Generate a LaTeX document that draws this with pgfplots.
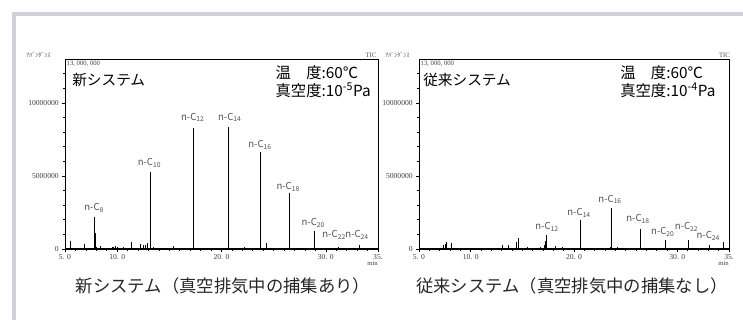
\documentclass[border=0pt]{standalone}
\usepackage{fontspec}
\usepackage{pgfplots}
\usepackage{pgfplotstable}
\pgfplotsset{compat=1.18}
\setmainfont{Noto Sans CJK JP}
\newfontfamily\jp{Noto Sans CJK JP}
\newfontfamily\tf{Liberation Serif}
\definecolor{frame}{RGB}{208,210,218}
\definecolor{lbl}{RGB}{80,80,80}
\newcommand\nc[1]{n-C\textsubscript{#1}}
\tikzset{peak/.style={font=\jp\fontsize{7.2}{8}\selectfont, text=lbl, inner sep=0pt}}

\pgfplotstableread{
t v
5.5 570000
6.1 80000
6.9 340000
7.4 100000
7.8 2200000
7.92 1100000
8.05 120000
8.4 180000
9.0 80000
9.6 150000
9.8 180000
10.0 120000
10.3 100000
10.6 120000
11.0 100000
11.35 500000
11.8 100000
12.2 350000
12.5 280000
12.7 300000
12.9 400000
13.2 5270000
13.5 150000
14.2 80000
15.4 200000
16.5 60000
17.3 8300000
18.5 60000
19.2 80000
19.6 60000
20.65 8350000
21.5 50000
22.2 120000
23.7 6650000
24.3 400000
25.0 50000
26.5 3800000
27.5 40000
28.95 1200000
31.2 150000
33.2 300000
34.0 50000
}\newdata

\pgfplotstableread{
t v
6.5 60000
7.35 300000
7.55 350000
7.65 450000
8.1 420000
8.6 100000
9.2 80000
10.0 60000
10.8 100000
11.5 60000
12.0 80000
12.6 100000
13.1 300000
13.7 300000
14.45 450000
14.6 750000
15.0 100000
15.5 120000
16.0 100000
16.8 150000
17.1 300000
17.2 550000
17.33 940000
18.25 200000
18.9 120000
19.3 100000
20.66 2000000
21.5 60000
22.5 80000
23.5 150000
23.67 2800000
24.2 120000
25.1 100000
25.8 60000
26.4 1370000
27.3 50000
28.1 60000
28.85 600000
29.8 50000
31.1 600000
32.2 50000
33.1 280000
34.5 460000
}\olddata

\pgfplotsset{gcaxis/.style={
  scale only axis, height=142.5pt, anchor=south west,
  xmin=5, xmax=35, ymin=0, ymax=13000000,
  xtick={5,10,20,30,35}, xticklabels={5. 0,10. 0,20. 0,30. 0,35.},
  minor xtick={6,7,8,9,11,12,13,14,15,16,17,18,19,21,22,23,24,25,26,27,28,29,31,32,33,34},
  ytick={0,5000000,10000000}, yticklabels={0,5000000,10000000},
  minor ytick={1000000,2000000,3000000,4000000,6000000,7000000,8000000,9000000,11000000,12000000},
  scaled y ticks=false,
  tick align=outside, xtick pos=bottom, ytick pos=left,
  major tick length=2.2pt, minor tick length=1.4pt,
  tick style={black, line width=0.45pt},
  ticklabel style={font=\tf\fontsize{5.7}{6}\selectfont, text=black!75},
  xticklabel style={yshift=1.5pt},
  yticklabel style={xshift=1pt},
  axis line style={line width=0.55pt},
  clip=true,
}}

\begin{document}
\begin{tikzpicture}
\path[use as bounding box] (0,0) rectangle (557.25pt,240pt);
\draw[frame, line width=3pt] (10.5pt,0pt) -- (10.5pt,229.5pt) -- (557.25pt,229.5pt);

% left panel
\begin{axis}[gcaxis, at={(48.75pt,53.25pt)}, width=234.75pt]
\addplot[ycomb, black, line width=0.8pt, no marks] table[x=t,y=v] {\newdata};
\draw[line width=1.2pt] (rel axis cs:0,0) -- (rel axis cs:0,1);
\draw[line width=1.1pt] (rel axis cs:0,0) -- (rel axis cs:1,0);
\node[peak] at (axis cs:7.8,2800000) {\nc{8}};
\node[peak] at (axis cs:13.1,5900000) {\nc{10}};
\node[peak] at (axis cs:17.25,9000000) {\nc{12}};
\node[peak] at (axis cs:20.8,9000000) {\nc{14}};
\node[peak] at (axis cs:23.7,7100000) {\nc{16}};
\node[peak] at (axis cs:26.4,4250000) {\nc{18}};
\node[peak] at (axis cs:28.8,1800000) {\nc{20}};
\node[peak] at (axis cs:30.8,960000) {\nc{22}};
\node[peak] at (axis cs:33.0,960000) {\nc{24}};
\end{axis}

% right panel
\begin{axis}[gcaxis, at={(314.25pt,53.25pt)}, width=232.5pt]
\addplot[ycomb, black, line width=0.8pt, no marks] table[x=t,y=v] {\olddata};
\draw[line width=1.2pt] (rel axis cs:0,0) -- (rel axis cs:0,1);
\draw[line width=1.1pt] (rel axis cs:0,0) -- (rel axis cs:1,0);
\node[peak] at (axis cs:17.4,1500000) {\nc{12}};
\node[peak] at (axis cs:20.5,2470000) {\nc{14}};
\node[peak] at (axis cs:23.5,3400000) {\nc{16}};
\node[peak] at (axis cs:26.2,2050000) {\nc{18}};
\node[peak] at (axis cs:28.6,1160000) {\nc{20}};
\node[peak] at (axis cs:30.9,1500000) {\nc{22}};
\node[peak] at (axis cs:33.0,900000) {\nc{24}};
\end{axis}

% small header texts
\node[anchor=west, inner sep=0pt, font=\jp\fontsize{4.5}{5}\selectfont, text=black!70] at (19.5pt,198.75pt) {ｱﾊﾞﾝﾀﾞﾝｽ};
\node[anchor=west, inner sep=0pt, font=\jp\fontsize{4.5}{5}\selectfont, text=black!70] at (288.75pt,198.75pt) {ｱﾊﾞﾝﾀﾞﾝｽ};
\node[anchor=east, inner sep=0pt, font=\tf\fontsize{5}{6}\selectfont, text=black!70] at (282.5pt,198.75pt) {TIC};
\node[anchor=east, inner sep=0pt, font=\tf\fontsize{5}{6}\selectfont, text=black!70] at (547.5pt,198.75pt) {TIC};
\node[anchor=west, inner sep=0pt, font=\tf\fontsize{5}{6}\selectfont, text=black!75] at (49.8pt,192pt) {13, 000, 000};
\node[anchor=west, inner sep=0pt, font=\tf\fontsize{5}{6}\selectfont, text=black!75] at (315.3pt,192pt) {13, 000, 000};
\node[anchor=east, inner sep=0pt, font=\tf\fontsize{5}{6}\selectfont, text=black!75] at (283.5pt,42.5pt) {min};
\node[anchor=east, inner sep=0pt, font=\tf\fontsize{5}{6}\selectfont, text=black!75] at (546.75pt,42.5pt) {min};

% panel titles
\node[anchor=west, inner sep=0pt, font=\jp\fontsize{11}{13}\selectfont] at (54pt,180pt) {新システム};
\node[anchor=west, inner sep=0pt, font=\jp\fontsize{11}{13}\selectfont] at (317.25pt,180pt) {従来システム};
\node[anchor=west, inner sep=0pt, font=\jp\fontsize{11.5}{13}\selectfont] at (206.5pt,185.25pt) {温　度:60℃};
\node[anchor=west, inner sep=0pt, font=\jp\fontsize{11.5}{13}\selectfont] at (206.5pt,172.5pt) {真空度:10\textsuperscript{-5}Pa};
\node[anchor=west, inner sep=0pt, font=\jp\fontsize{11.5}{13}\selectfont] at (465pt,185.25pt) {温　度:60℃};
\node[anchor=west, inner sep=0pt, font=\jp\fontsize{11.5}{13}\selectfont] at (465pt,172.5pt) {真空度:10\textsuperscript{-4}Pa};

% captions
\node[inner sep=0pt, font=\jp\fontsize{13}{15}\selectfont, text=black!85] at (167.25pt,25.5pt) {新システム（真空排気中の捕集あり）};
\node[inner sep=0pt, font=\jp\fontsize{13}{15}\selectfont, text=black!85] at (429pt,25.5pt) {従来システム（真空排気中の捕集なし）};
\end{tikzpicture}
\end{document}
